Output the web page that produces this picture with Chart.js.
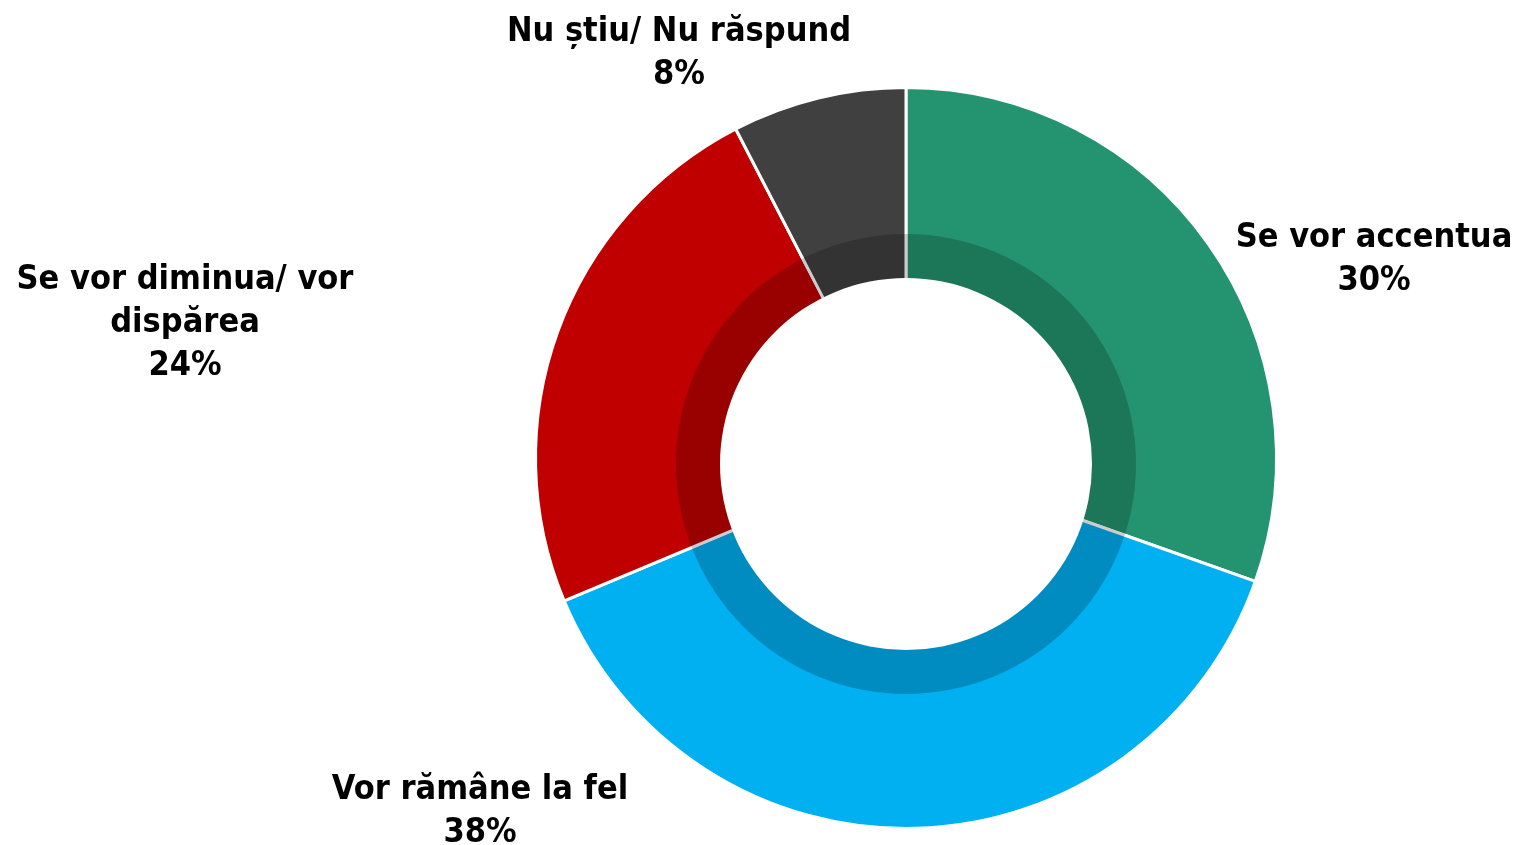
<!DOCTYPE html>
<html>
<head>
<meta charset="utf-8">
<script src="https://cdn.jsdelivr.net/npm/chart.js@4"></script>
<style>
    html, body { margin: 0; padding: 0; background: #fff; }
    #wrap { width: 1517px; height: 845px; }
</style>
</head>
<body>
<div id="wrap"><canvas id="opinionChart"></canvas></div>
<script>
// Chart data
const categories = [
    ['Se vor accentua'],
    ['Vor rămâne la fel'],
    ['Se vor diminua/ vor', 'dispărea'],
    ['Nu știu/ Nu răspund']
];
const shares = [30.4, 38.3, 23.7, 7.6];
const sliceColors = ['#23946f', '#00b0f0', '#c00000', '#404040'];

// Label block centres, relative to the doughnut centre
const labelOffsets = [[468, -198], [-426, 354], [-721, -135], [-227, -404]];

// Inner shadow band + slightly offset hole, like the original
const innerBand = {
    id: 'innerBand',
    afterDatasetsDraw(chart) {
        const arc = chart.getDatasetMeta(0).data[0];
        const ctx = chart.ctx;
        const cx = arc.x, cy = arc.y + 6;
        ctx.save();
        ctx.beginPath();
        ctx.arc(cx, cy, 230, 0, Math.PI * 2);
        ctx.fillStyle = 'rgba(0, 0, 0, 0.2)';
        ctx.fill();
        ctx.beginPath();
        ctx.arc(cx, cy, 186, 0, Math.PI * 2);
        ctx.fillStyle = '#ffffff';
        ctx.fill();
        ctx.restore();
    }
};

const sliceLabels = {
    id: 'sliceLabels',
    afterDraw(chart) {
        const arc = chart.getDatasetMeta(0).data[0];
        const ctx = chart.ctx;
        const lineH = 43;
        ctx.save();
        ctx.font = 'bold 34px "DejaVu Sans Condensed", "DejaVu Sans", sans-serif';
        ctx.fillStyle = '#000';
        ctx.textAlign = 'center';
        ctx.textBaseline = 'middle';
        categories.forEach((lines, i) => {
            const all = lines.concat([Math.round(shares[i]) + '%']);
            const x = arc.x + labelOffsets[i][0];
            const y0 = arc.y + labelOffsets[i][1] - (all.length - 1) * lineH / 2;
            all.forEach((t, k) => ctx.fillText(t, x, y0 + k * lineH));
        });
        ctx.restore();
    }
};

new Chart(document.getElementById('opinionChart').getContext('2d'), {
    type: 'doughnut',
    data: {
        labels: categories,
        datasets: [{
            data: shares,
            backgroundColor: sliceColors,
            borderColor: '#ffffff',
            borderWidth: 3
        }]
    },
    options: {
        responsive: true,
        maintainAspectRatio: false,
        animation: false,
        cutout: 175,
        layout: {
            padding: { left: 534, right: 239, top: 86, bottom: 15 }
        },
        plugins: {
            legend: { display: false },
            tooltip: { enabled: false }
        }
    },
    plugins: [innerBand, sliceLabels]
});
</script>
</body>
</html>
